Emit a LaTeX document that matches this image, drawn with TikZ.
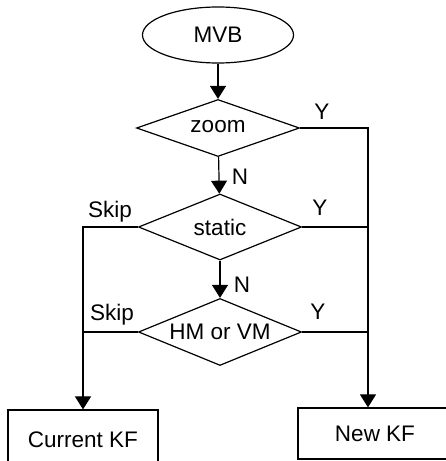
\documentclass[tikz,border=0pt]{standalone}
\usepackage{fontspec}
\setmainfont{Liberation Sans}
\usetikzlibrary{positioning, shapes.geometric, arrows.meta}

\begin{document}
\begin{tikzpicture}[x=1pt, y=1pt,
    every node/.style={font=\fontsize{22.5}{27}\selectfont},
    flow/.style={-{Triangle[length=13pt, width=16pt]}, line width=1.2pt},
    line/.style={line width=1.2pt},
    decision/.style={draw, diamond, aspect=2.5, inner sep=0pt, line width=1.2pt, minimum width=163pt, minimum height=66pt},
    result/.style={draw, rectangle, line width=1.2pt, minimum width=150pt}]
      \clip (0, 0) rectangle (446, 461);

      \node[draw, ellipse, line width=1.2pt, inner sep=0pt, minimum width=151pt, minimum height=56pt] (mvb) at (218, 426) {MVB};
      \node[decision, minimum height=57pt] (zoom) at (218, 333) {\raisebox{4pt}{zoom}};
      \node[decision] (static) at (220, 234) {static};
      \node[decision, minimum height=67pt] (hmvm) at (220, 129) {HM or VM};

      \node[result, minimum height=60pt] (curkf) at (83, 21) {Current KF};
      \node[result, minimum width=154pt, minimum height=51pt] (newkf) at (375, 27.5) {New KF};
      \coordinate (ybus) at ([xshift=-7pt]newkf.north);

      \draw[flow] (mvb) -- (zoom);
      \draw[flow] (zoom) -- (static);
      \draw[flow] (static) -- (hmvm);

      \draw[flow] (zoom.east) -| (ybus);
      \draw[line] (static.east) -- (static.east -| ybus);
      \draw[line] (hmvm.east) -- (hmvm.east -| ybus);

      \draw[flow] (static.west) -| (curkf.north);
      \draw[line] (hmvm.west) -- (hmvm.west -| curkf.north);

      \node (yzoom) at (322, 349) {Y};
      \node (nzoom) at (240, 284) {N};
      \node (ystatic) at (320, 253) {Y};
      \node (skipstatic) at (110, 249) {Skip};
      \node (nstatic) at (242, 176) {N};
      \node (yhm) at (318, 149) {Y};
      \node (skiphm) at (112, 146) {Skip};
    \end{tikzpicture}
\end{document}
